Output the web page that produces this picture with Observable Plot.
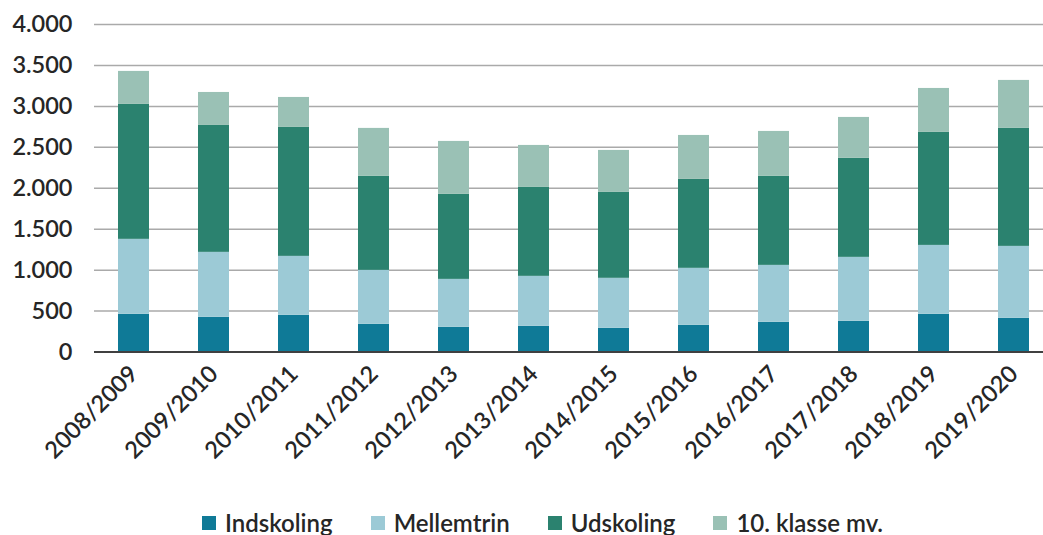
<!DOCTYPE html>
<html>
<head>
<meta charset="utf-8">
<script src="https://cdn.jsdelivr.net/npm/d3@7"></script>
<script src="https://cdn.jsdelivr.net/npm/@observablehq/plot@0.6"></script>
<style>
  html, body { margin: 0; padding: 0; background: #fff; }
  body { width: 1043px; height: 535px; overflow: hidden; font-family: Lato, "Open Sans", sans-serif; }
  #chart svg { display: block; font-family: Lato, sans-serif; }
  #legend { position: absolute; top: 508px; left: 202px; display: flex; align-items: center;
    font-family: Lato, sans-serif; font-size: 24px; font-weight: 600; color: #262626; }
  .item { display: flex; align-items: center; margin-right: 38px; }
  .sw { width: 14px; height: 14px; margin-right: 9px; }
</style>
</head>
<body>
<div id="chart"></div>
<div id="legend"></div>
<script>
const seasons = ["2008/2009","2009/2010","2010/2011","2011/2012","2012/2013","2013/2014","2014/2015","2015/2016","2016/2017","2017/2018","2018/2019","2019/2020"];
const indskoling = [460, 424, 448, 338, 301, 314, 289, 326, 363, 375, 460, 411];
const mellemtrin = [916, 793, 720, 659, 586, 610, 611, 696, 695, 781, 842, 879];
const udskoling  = [1648, 1550, 1575, 1148, 1038, 1086, 1049, 1086, 1087, 1209, 1380, 1441];
const tiende     = [403, 403, 366, 586, 647, 513, 513, 537, 549, 500, 537, 586];
const seriesNames = ["Indskoling", "Mellemtrin", "Udskoling", "10. klasse mv."];
const seriesColors = ["#0f7a97", "#9ccad6", "#2b826f", "#9ac1b5"];
const yTicks = [0, 500, 1000, 1500, 2000, 2500, 3000, 3500, 4000];

const seriesValues = [indskoling, mellemtrin, udskoling, tiende];
const data = seasons.flatMap((s, i) => seriesNames.map((g, j) => ({season: s, group: g, value: seriesValues[j][i]})));

const fmt = d => d3.format(",")(d).replace(/,/g, ".");

const chart = Plot.plot({
  width: 1043,
  height: 495,
  marginLeft: 94,
  marginRight: 0,
  marginTop: 24,
  marginBottom: 143.5,
  style: {fontFamily: "Lato, sans-serif", fontSize: "23.5px", fontWeight: 600, color: "#262626", background: "#fff"},
  x: {domain: seasons, range: [92.5, 1053.5], paddingInner: 0.613, paddingOuter: 0.3065, label: null, tickSize: 0, tickRotate: -45, tickPadding: 18},
  y: {domain: [0, 4000], ticks: yTicks, tickFormat: fmt, label: null, tickSize: 0, tickPadding: 22},
  color: {domain: seriesNames, range: seriesColors},
  marks: [
    Plot.ruleY(yTicks.filter(d => d > 0), {stroke: "#aaaaaa", strokeWidth: 1.5}),
    Plot.barY(data, {x: "season", y: "value", fill: "group", order: seriesNames}),
    Plot.ruleY([0], {stroke: "#404040", strokeWidth: 2})
  ]
});
document.getElementById("chart").appendChild(chart);

const legend = document.getElementById("legend");
seriesNames.forEach((n, i) => {
  const it = document.createElement("div");
  it.className = "item";
  const sw = document.createElement("div");
  sw.className = "sw";
  sw.style.background = seriesColors[i];
  const t = document.createElement("span");
  t.textContent = n;
  it.appendChild(sw);
  it.appendChild(t);
  legend.appendChild(it);
});
</script>
</body>
</html>
